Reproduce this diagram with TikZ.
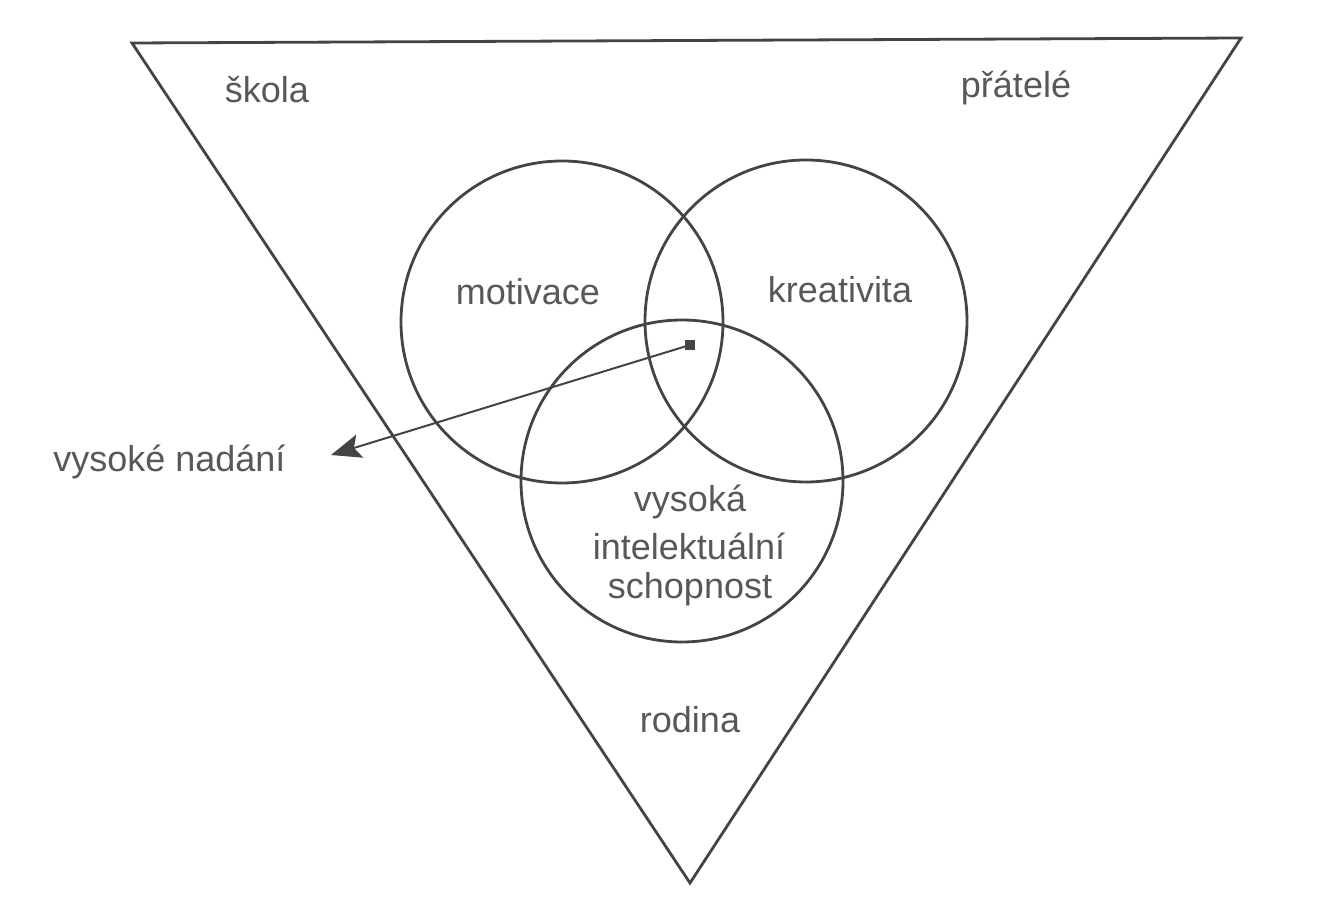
\documentclass[tikz,border=0pt]{standalone}
\usepackage{fontspec}
\setmainfont{Liberation Sans}
\usetikzlibrary{arrows.meta}
\definecolor{ink}{HTML}{444444}
\definecolor{txt}{HTML}{585858}
\begin{document}
\begin{tikzpicture}[x=0.5pt,y=-0.5pt,
  lbl/.style={text=txt,font=\fontsize{18}{22}\selectfont,inner sep=0pt,align=center},
  ring/.style={draw=ink,line width=1.4pt,circle,minimum size=161pt,inner sep=0pt},
  edge/.style={draw=ink,line width=1.4pt},
  marker/.style={fill=ink,rectangle,minimum size=5pt,inner sep=0pt},
  pointer/.style={draw=ink,line width=1pt,-{Stealth[length=15pt,width=12pt,inset=3pt]}}]
\useasboundingbox[fill=white] (0,0) rectangle (1328,924);
% triangle
\coordinate (tl) at (132,43);
\coordinate (tr) at (1241,38);
\coordinate (bt) at (690,883);
\draw[edge,line join=miter] (tl) -- (tr) -- (bt) -- cycle;
% circles
\node[ring] (cmot) at (562,322) {};
\node[ring] (ckre) at (806,321) {};
\node[ring] (cint) at (682,481) {};
% labels
\node[lbl] (skola) at (267,90) {škola};
\node[lbl] (pratele) at (1016,88) {přátelé};
\node[lbl] (rodina) at (690,720) {rodina};
\node[lbl] (motivace) at (528,292) {motivace};
\node[lbl] (kreativita) at (840,290) {kreativita};
\node[lbl] (l1) at (690,502) {vysoká};
\node[lbl] (l2) at (689,546) {intelektuální};
\node[lbl] (l3) at (690,589) {schopnost};
\node[lbl,anchor=west] (nadani) at (53,462) {vysoké nadání};
% pointer
\node[marker] (sq) at (690,345) {};
\coordinate (tip) at (331,455);
\draw[pointer] (sq.center) -- (tip);
\end{tikzpicture}
\end{document}
